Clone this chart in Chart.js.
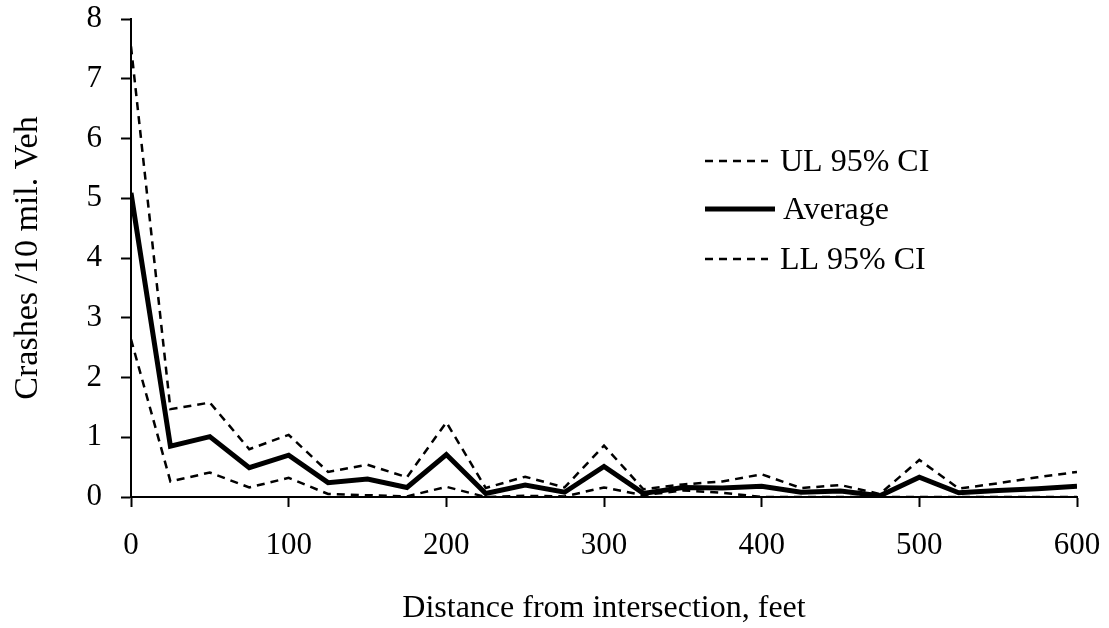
<!DOCTYPE html>
<html>
<head>
<meta charset="utf-8">
<script src="https://cdn.jsdelivr.net/npm/chart.js@4"></script>
<style>
  html, body { margin: 0; padding: 0; background: #fff; }
  #wrap { width: 1109px; height: 628px; }
</style>
</head>
<body>
<div id="wrap"><canvas id="c" width="1109" height="628"></canvas></div>
<script>
const distances = [0,25,50,75,100,125,150,175,200,225,250,275,300,325,350,375,400,425,450,475,500,525,550,575,600];
const averageValues = [5.09,0.85,1.01,0.49,0.70,0.24,0.30,0.16,0.71,0.06,0.20,0.08,0.51,0.06,0.16,0.15,0.18,0.08,0.10,0.02,0.33,0.07,0.11,0.14,0.18];
const upperValues = [7.54,1.47,1.58,0.80,1.04,0.42,0.54,0.33,1.25,0.15,0.34,0.16,0.86,0.13,0.21,0.26,0.38,0.15,0.20,0.05,0.62,0.14,0.23,0.33,0.42];
const lowerValues = [2.64,0.26,0.41,0.16,0.32,0.05,0.03,0.01,0.17,0.00,0.02,0.01,0.16,0.03,0.11,0.07,0.00,0.00,0.00,0.00,0.00,0.00,0.00,0.00,0.00];
const seriesLabels = ["UL 95% CI", "Average", "LL 95% CI"];
const xTitle = "Distance from intersection, feet";
const yTitle = "Crashes /10 mil. Veh";

const FONT = '"Liberation Serif", "Times New Roman", serif';
const toXY = arr => arr.map((v, i) => ({ x: distances[i], y: v }));

const legendPlugin = {
  id: 'customLegend',
  afterDraw(chart) {
    const ctx = chart.ctx;
    const rows = [
      { y: 161, dash: [8, 6], width: 2.5, x2: 768 },
      { y: 209, dash: [], width: 5, x2: 775 },
      { y: 259, dash: [8, 6], width: 2.5, x2: 768 }
    ];
    ctx.save();
    rows.forEach((r, i) => {
      ctx.beginPath();
      ctx.setLineDash(r.dash);
      ctx.lineWidth = r.width;
      ctx.strokeStyle = '#000';
      ctx.moveTo(705, r.y);
      ctx.lineTo(r.x2, r.y);
      ctx.stroke();
      ctx.setLineDash([]);
      ctx.fillStyle = '#000';
      ctx.font = '32px ' + FONT;
      ctx.textBaseline = 'middle';
      ctx.textAlign = 'left';
      ctx.fillText(chart.data.datasets[i].label, i === 1 ? 783 : 780, r.y + 2);
    });
    ctx.restore();
  }
};

new Chart(document.getElementById('c'), {
  type: 'line',
  data: {
    datasets: [
      { label: seriesLabels[0], data: toXY(upperValues), borderColor: '#000', borderWidth: 2.5, borderDash: [8, 6], pointRadius: 0, tension: 0, fill: false },
      { label: seriesLabels[1], data: toXY(averageValues), borderColor: '#000', borderWidth: 5, pointRadius: 0, tension: 0, fill: false },
      { label: seriesLabels[2], data: toXY(lowerValues), borderColor: '#000', borderWidth: 2.5, borderDash: [8, 6], pointRadius: 0, tension: 0, fill: false }
    ]
  },
  options: {
    responsive: false,
    animation: false,
    layout: { padding: { top: 19, right: 32, left: 0, bottom: 0 } },
    plugins: { legend: { display: false }, tooltip: { enabled: false } },
    scales: {
      x: {
        type: 'linear',
        min: 0, max: 600,
        ticks: { stepSize: 100, color: '#000', font: { family: FONT, size: 31 }, padding: 20, maxRotation: 0 },
        grid: { drawOnChartArea: false, drawTicks: true, tickLength: 10, tickColor: '#000', tickWidth: 2 },
        border: { display: true, color: '#000', width: 2 },
        title: { display: true, text: xTitle, color: '#000', font: { family: FONT, size: 32 }, padding: { top: 0, bottom: 0 } },
        afterFit(scale) { scale.height = 131; scale.paddingLeft = 0; scale.paddingRight = 0; }
      },
      y: {
        min: 0, max: 8,
        ticks: { stepSize: 1, color: '#000', font: { family: FONT, size: 31 }, padding: 19 },
        grid: { drawOnChartArea: false, drawTicks: true, tickLength: 10, tickColor: '#000', tickWidth: 2 },
        border: { display: true, color: '#000', width: 2 },
        title: { display: true, text: yTitle, color: '#000', font: { family: FONT, size: 34 }, padding: { top: 8, bottom: 0 } },
        afterFit(scale) { scale.width = 131; scale.paddingTop = 0; scale.paddingBottom = 0; }
      }
    }
  },
  plugins: [legendPlugin]
});
</script>
</body>
</html>
